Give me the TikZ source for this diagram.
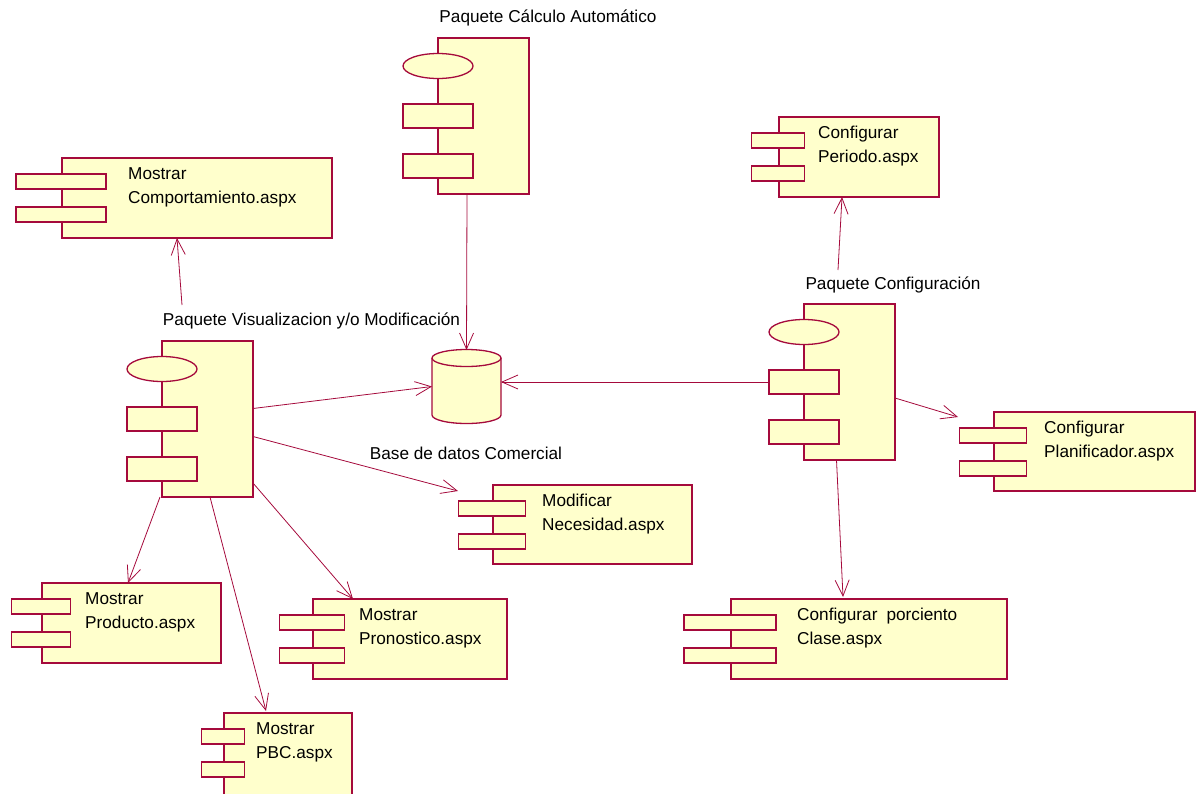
\documentclass[tikz,border=0pt]{standalone}
\usepackage{fontspec}
\setmainfont{Liberation Sans}
\usetikzlibrary{arrows.meta,shapes.geometric}
\definecolor{yc}{RGB}{255,255,204}
\definecolor{rc}{RGB}{165,10,60}
\newcommand\ctxt[2]{\begin{tabular}[t]{@{}l@{}}#1\\#2\end{tabular}}
\newcommand\mkcomp[8]{%
  \node[box, minimum width=#4, minimum height=#5] (#1) at (#2,#3) {};
  \node[box, minimum width={#4/3}, minimum height=15] (#1t1) at ({#2-#4/6-1},{#3+16}) {};
  \node[box, minimum width={#4/3}, minimum height=15] (#1t2) at ({#2-#4/6-1},{#3+49}) {};
  \node[ctext] (#1x) at (#6,{#3+21}) {\ctxt{#7}{#8}};
}
\newcommand\mkpkg[3]{%
  \node[box, minimum width=91, minimum height=156] (#1) at (#2,#3) {};
  \node[oval] (#1e) at (#2,{#3+28}) {};
  \node[box, minimum width=70, minimum height=24] (#1a) at ({#2-35},{#3+66}) {};
  \node[box, minimum width=70, minimum height=24] (#1b) at ({#2-35},{#3+116}) {};
}
\begin{document}
\begin{tikzpicture}[x=1pt,y=-1pt,
  box/.style={draw=rc, fill=yc, line width=1.3pt, rectangle, inner sep=0pt, outer sep=0pt, anchor=north west},
  oval/.style={draw=rc, fill=yc, line width=1.3pt, ellipse, inner sep=0pt, outer sep=0pt, minimum width=70, minimum height=25},
  dep/.style={draw=rc, line width=0.8pt, -{Straight Barb[length=16pt,width=14pt]}},
  lbl/.style={font=\fontsize{17.2}{24}\selectfont, inner sep=0pt, anchor=base},
  ctext/.style={font=\fontsize{17.2}{24}\selectfont, inner sep=0pt, anchor=base west},
]
\useasboundingbox (0,0) rectangle (1196,793);

% packages
\mkpkg{calc}{438}{38}
\mkpkg{vis}{162}{341}
\mkpkg{conf}{804}{304}

% database
\node[minimum width=69, minimum height=73, inner sep=0pt, outer sep=0pt] (db) at (466.5,386.5) {};
\fill[yc] (432,358) -- (432,415) arc[start angle=180,end angle=0,x radius=34.5,y radius=8.5] -- (501,358) -- cycle;
\draw[rc, line width=1.3pt] (432,358) -- (432,415) arc[start angle=180,end angle=0,x radius=34.5,y radius=8.5] -- (501,358);
\draw[rc, fill=yc, line width=1.3pt] (466.5,358) ellipse[x radius=34.5, y radius=8.5];

% components
\mkcomp{comp}{62}{158}{270}{80}{128}{Mostrar}{Comportamiento.aspx}
\mkcomp{per}{779}{117}{160}{80}{818}{Configurar}{Periodo.aspx}
\mkcomp{plan}{994}{412}{201}{79}{1044}{Configurar}{Planificador.aspx}
\mkcomp{nec}{493}{485}{199}{79}{542}{Modificar}{Necesidad.aspx}
\mkcomp{por}{731}{599}{276}{80}{797}{Configurar\hspace{0.25em} porciento}{Clase.aspx}
\mkcomp{prod}{42}{583}{179}{80}{85}{Mostrar}{Producto.aspx}
\mkcomp{pron}{313}{599}{194}{80}{359}{Mostrar}{Pronostico.aspx}
\mkcomp{pbc}{224}{713}{128}{84}{256}{Mostrar}{PBC.aspx}

% labels
\node[lbl] (lcalc) at (548,22) {Paquete Cálculo Automático};
\node[lbl] (lvis) at (311.5,325) {Paquete Visualizacion y/o Modificación};
\node[lbl] (lconf) at (893,289) {Paquete Configuración};
\node[lbl] (ldb) at (466,459) {Base de datos Comercial};

\coordinate (visup) at (182,305);
\coordinate (confup) at (838,270);

% connectors
\draw[dep] (visup) -- ([xshift=-20]comp.south);
\draw[dep] ([yshift=10.5]vis.east) -- (db.west);
\draw[dep] ([yshift=-17.5]vis.east) -- ([xshift=-35,yshift=-6]nec.north west);
\draw[dep] ([xshift=-2]vis.south west) -- ([xshift=86]prod.north west);
\draw[dep] ([xshift=2.5]vis.south) -- ([xshift=42,yshift=2]pbc.north west);
\draw[dep] ([yshift=14]vis.south east) -- ([xshift=40]pron.north west);
\draw[dep] ([xshift=-16.5]calc.south) -- (db.north);
\draw[dep] (confa.west) -- ([yshift=4.5]db.east);
\draw[dep] (confup) -- ([xshift=-17]per.south);
\draw[dep] ([yshift=-16]conf.east) -- ([xshift=-36,yshift=-5]plan.north west);
\draw[dep] ([xshift=-13]conf.south) -- ([xshift=-26,yshift=2]por.north);
\end{tikzpicture}
\end{document}
